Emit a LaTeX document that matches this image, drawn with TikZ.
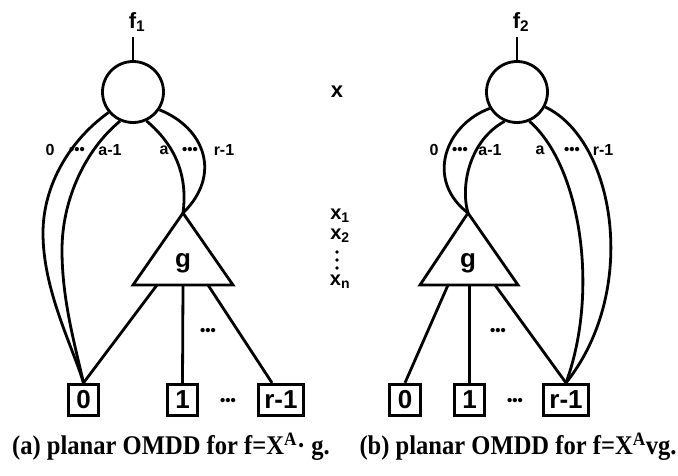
\documentclass[tikz,border=0pt]{standalone}
\usepackage{fontspec}
\setmainfont{Liberation Serif}
\newfontfamily\labelfont{Liberation Sans}
\newfontfamily\capfont[FakeStretch=0.91]{Liberation Serif}
\usetikzlibrary{calc}
\tikzset{
  vertnode/.style={circle, draw, minimum size=61pt, inner sep=0pt},
  leafbox/.style={draw, minimum height=31.5pt, minimum width=30.5pt, inner sep=1pt,
    font=\labelfont\bfseries\fontsize{26}{26}\selectfont},
  widebox/.style={leafbox, minimum width=45.5pt},
  elab/.style={inner sep=0pt, font=\labelfont\bfseries\fontsize{16}{16}\selectfont},
  biglab/.style={inner sep=0pt, font=\labelfont\bfseries\fontsize{22}{22}\selectfont},
  varlab/.style={inner sep=0pt, font=\labelfont\bfseries\fontsize{20}{20}\selectfont},
  glab/.style={inner sep=0pt, font=\labelfont\bfseries\fontsize{26}{26}\selectfont},
  dotlab/.style={inner sep=0pt, font=\labelfont\bfseries\fontsize{15}{15}\selectfont},
  caplab/.style={inner sep=0pt, font=\capfont\bfseries\fontsize{27}{27}\selectfont}
}
\begin{document}
\begin{tikzpicture}[x=1pt,y=-1pt,line width=2.8pt]
\useasboundingbox (0,0) rectangle (678,475);

% ---------- (a) ----------
\node[biglab] (f1) at (137,22) {f\textsubscript{1}};
\coordinate (f1top) at (133,37);
\node[vertnode] (c1) at (133,92) {};
\draw (f1top) -- (c1.north);

\coordinate (t1a) at (183,213);
\coordinate (t1l) at (133,285);
\coordinate (t1r) at (233,285);
\draw[line join=miter] (t1a) -- (t1l) -- (t1r) -- cycle;
\node[glab] (g1) at (183,263) {g};

\node[leafbox] (b1z) at (83.5,400) {0};
\node[leafbox] (b1o) at (182.5,400) {1};
\node[widebox] (b1r) at (281,400) {r-1};
\node[dotlab] (d1b) at (228,402) {•••};

\coordinate (t1pl) at (157,285);
\coordinate (t1pm) at (183,285);
\coordinate (t1pr) at (208,285);
\draw (t1pl) -- (b1z.north);
\draw (t1pm) -- (b1o.north);
\draw (t1pr) -- ($(b1r.north)+(-9,0)$);
\node[dotlab] (d1m) at (208,332) {•••};

\draw (c1.220) .. controls (70,140) and (43,185) .. (43,233)
      .. controls (43,290) and (72,345) .. (b1z.north);
\draw (c1.246) .. controls (85,150) and (62,200) .. (62,250)
      .. controls (62,300) and (75,345) .. (b1z.north);
\draw (c1.295) .. controls (175,145) and (188,175) .. (t1a);
\draw (c1.326) .. controls (205,128) and (222,175) .. (t1a);

\node[elab] (l1a) at (50,150) {0};
\node[dotlab] (l1b) at (77,151) {•••};
\node[elab] (l1c) at (110,150) {a-1};
\node[elab] (l1d) at (164,150) {a};
\node[dotlab] (l1e) at (190,151) {•••};
\node[elab] (l1f) at (224,150) {r-1};

% ---------- middle ----------
\node[biglab] (vx) at (337,92) {x};
\node[varlab] (vx1) at (340,216) {x\textsubscript{1}};
\node[varlab] (vx2) at (340,236) {x\textsubscript{2}};
\fill (337,252) circle (1.9pt) (337,260) circle (1.9pt) (337,268) circle (1.9pt);
\node[varlab] (vxn) at (340,282) {x\textsubscript{n}};

% ---------- (b) ----------
\node[biglab] (f2) at (521,22) {f\textsubscript{2}};
\coordinate (f2top) at (517,37);
\node[vertnode] (c2) at (517,92) {};
\draw (f2top) -- (c2.north);

\coordinate (t2a) at (468,213);
\coordinate (t2l) at (420,285);
\coordinate (t2r) at (518,285);
\draw[line join=miter] (t2a) -- (t2l) -- (t2r) -- cycle;
\node[glab] (g2) at (468,263) {g};

\node[leafbox] (b2z) at (405,400) {0};
\node[leafbox] (b2o) at (469.5,400) {1};
\node[widebox] (b2r) at (566,400) {r-1};
\node[dotlab] (d2b) at (515,402) {•••};

\coordinate (t2pl) at (448,285);
\coordinate (t2pm) at (469.5,285);
\coordinate (t2pr) at (495,285);
\draw (t2pl) -- (b2z.north);
\draw (t2pm) -- (b2o.north);
\draw (t2pr) -- (b2r.north);
\node[dotlab] (d2m) at (498,332) {•••};

\draw (c2.211) .. controls (445,125) and (425,180) .. (t2a);
\draw (c2.247) .. controls (470,140) and (460,185) .. (t2a);
\draw (c2.293) .. controls (580,165) and (600,290) .. (b2r.north);
\draw (c2.332) .. controls (615,140) and (640,290) .. (b2r.north);

\node[elab] (l2a) at (434,150) {0};
\node[dotlab] (l2b) at (460,151) {•••};
\node[elab] (l2c) at (490,150) {a-1};
\node[elab] (l2d) at (540,150) {a};
\node[dotlab] (l2e) at (572,151) {•••};
\node[elab] (l2f) at (603,150) {r-1};

% ---------- captions ----------
\node[caplab] (capa) at (171,447) {(a) planar OMDD for f=X\textsuperscript{A}· g.};
\node[caplab] (capb) at (518,447) {(b) planar OMDD for f=X\textsuperscript{A}vg.};
\end{tikzpicture}
\end{document}
